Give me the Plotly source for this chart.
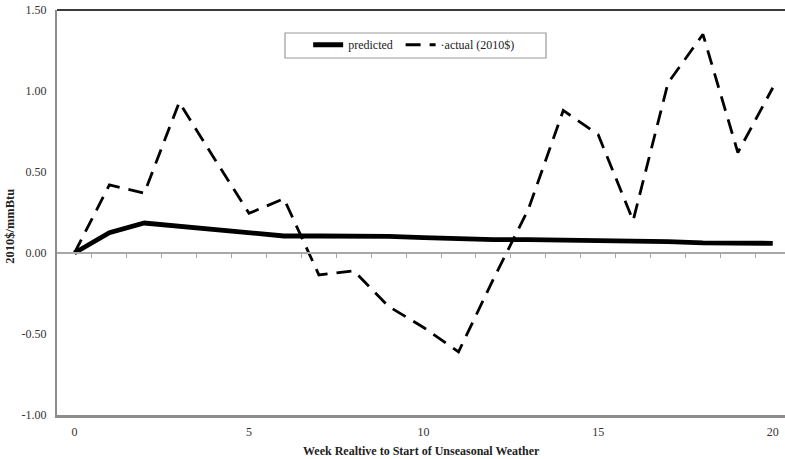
import plotly.graph_objects as go

# Weeks since the start of unseasonal weather
weeks = list(range(0, 21))

# Price response, 2010$/mmBtu
predicted = [0.00, 0.125, 0.185, 0.165, 0.145, 0.12, 0.105, 0.105, 0.105, 0.103,
             0.095, 0.088, 0.082, 0.082, 0.08, 0.076, 0.075, 0.07, 0.062, 0.06, 0.06]
actual = [0.00, 0.42, 0.37, 0.93, 0.585, 0.245, 0.335, -0.135, -0.11, -0.33,
          -0.46, -0.61, -0.16, 0.27, 0.88, 0.73, 0.20, 1.05, 1.35, 0.62, 1.02]

y_ticks = [-1.0, -0.5, 0.0, 0.5, 1.0, 1.5]
y_ticktext = ["-1.00", "-0.50", "0.00", "0.50", "1.00", "1.50"]
x_ticks = [0, 5, 10, 15, 20]

serif = "Liberation Serif"
label_color = "#333333"
frame_gray = "#8c8c8c"

fig = go.Figure()

fig.add_trace(go.Scatter(
    x=weeks, y=predicted, name="predicted", mode="lines",
    line=dict(color="black", width=4.8), legend="legend",
))
fig.add_trace(go.Scatter(
    x=weeks, y=actual, name="\u00b7actual (2010$)", mode="lines",
    line=dict(color="black", width=2.8, dash="15px,9px"), legend="legend2",
))
# invisible carrier for the secondary x axis drawn along y = 0
fig.add_trace(go.Scatter(
    x=[0], y=[0], xaxis="x2", mode="lines", showlegend=False,
    hoverinfo="skip", line=dict(width=0),
))

x_range = [-0.5, 20.35]
y_range = [-1.0, 1.5]

legend_style = dict(
    orientation="h", y=0.95, xanchor="left", yanchor="top",
    borderwidth=0, bgcolor="rgba(0,0,0,0)",
    font=dict(family=serif, size=12, color="#222222"),
    itemwidth=30,
)

fig.update_layout(
    width=785, height=459,
    margin=dict(l=57, r=0, t=10, b=44),
    paper_bgcolor="white", plot_bgcolor="white",
    font=dict(family=serif, size=12, color=label_color),
    showlegend=True,
    legend=dict(x=0.345, **legend_style),
    legend2=dict(x=0.472, **legend_style),
    xaxis=dict(
        range=x_range, tickvals=x_ticks, ticktext=[str(v) for v in x_ticks],
        showgrid=False, zeroline=False,
        showline=True, linecolor=frame_gray, linewidth=2.5,
        ticks="", tickfont=dict(family=serif, size=12, color=label_color),
        ticklabelstandoff=4,
    ),
    xaxis2=dict(
        overlaying="x", anchor="free", position=0.4,
        range=x_range, showgrid=False, zeroline=False,
        showline=True, linecolor="#a8a8a8", linewidth=1.5,
        tickvals=[w + 0.5 for w in weeks[:-1]],
        ticks="outside", ticklen=4, tickcolor="#a8a8a8", tickwidth=1,
        showticklabels=False,
    ),
    yaxis=dict(
        range=y_range, tickvals=y_ticks, ticktext=y_ticktext,
        showgrid=False, zeroline=False,
        showline=True, linecolor=frame_gray, linewidth=2,
        ticks="", tickfont=dict(family=serif, size=12, color=label_color),
        ticklabelstandoff=6,
    ),
    shapes=[
        # top frame edge
        dict(type="line", xref="paper", yref="paper", x0=0, x1=1, y0=1, y1=1,
             line=dict(color="#3a3a3a", width=2)),
        # legend box
        dict(type="rect", xref="paper", yref="paper",
             x0=(285 - 57) / 728, x1=(546 - 57) / 728,
             y0=(415 - 58) / 405, y1=(415 - 33) / 405,
             line=dict(color="#9a9a9a", width=1.2), fillcolor="white",
             layer="below"),
    ],
    annotations=[
        dict(text="<b>2010$/mmBtu</b>", xref="paper", yref="paper",
             x=-0.0646, y=0.467, textangle=-90, showarrow=False,
             xanchor="center", yanchor="middle",
             font=dict(family=serif, size=12.5, color="#222222")),
        dict(text="<b>Week Realtive to Start of Unseasonal Weather</b>",
             xref="paper", yref="paper", x=0.5, y=-0.089,
             showarrow=False, xanchor="center", yanchor="middle",
             font=dict(family=serif, size=12, color="#222222")),
    ],
)

fig.write_html("out.html")
